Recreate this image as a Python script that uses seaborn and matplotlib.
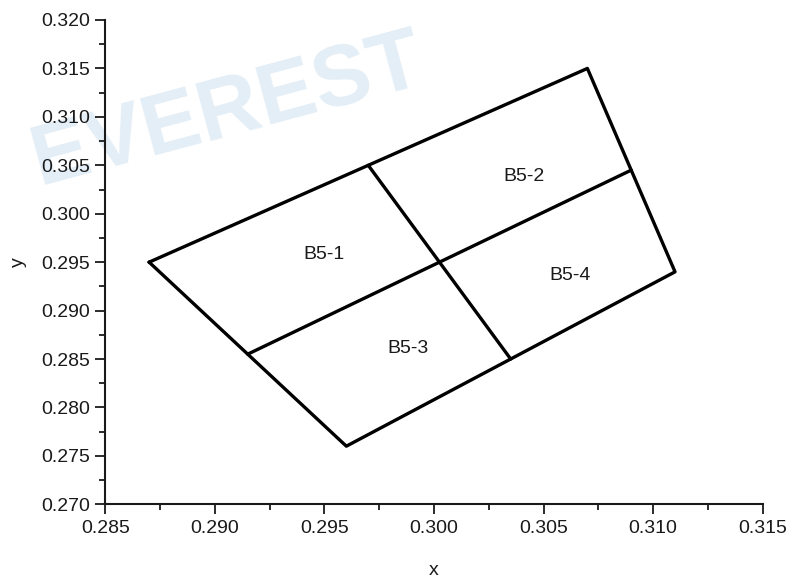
import matplotlib
matplotlib.use("Agg")
import matplotlib.pyplot as plt
from matplotlib.ticker import MultipleLocator
import seaborn as sns
import pandas as pd

# outer quadrilateral (closed)
outline_x = [0.287, 0.307, 0.311, 0.296, 0.287]
outline_y = [0.295, 0.315, 0.294, 0.276, 0.295]
# dividing lines joining edge midpoints
div1_x = [0.2915, 0.309]
div1_y = [0.2855, 0.3045]
div2_x = [0.297, 0.3035]
div2_y = [0.305, 0.285]

zone_names = ["B5-1", "B5-2", "B5-3", "B5-4"]
zone_x = [0.2950, 0.3041, 0.2988, 0.3062]
zone_y = [0.2958, 0.3038, 0.2861, 0.2936]

sns.set_style("ticks")
plt.rcParams["font.family"] = ["Liberation Sans", "DejaVu Sans"]

df = pd.concat([
    pd.DataFrame({"x": outline_x, "y": outline_y, "seg": 0, "order": range(len(outline_x))}),
    pd.DataFrame({"x": div1_x, "y": div1_y, "seg": 1, "order": range(2)}),
    pd.DataFrame({"x": div2_x, "y": div2_y, "seg": 2, "order": range(2)}),
], ignore_index=True)

fig = plt.figure(figsize=(7.87, 5.78), dpi=100)
ax = fig.add_axes([0.1338, 0.1275, 0.9691 - 0.1338, 0.9654 - 0.1275])

# faint watermark behind the axes
fig.text(0.05, 0.68, "EVEREST", fontsize=62, fontweight="bold", color="#e4eef6",
         rotation=15, rotation_mode="anchor", ha="left", va="baseline", zorder=-1)
ax.patch.set_alpha(0)

sns.lineplot(data=df, x="x", y="y", units="seg", estimator=None, sort=False,
             color="black", linewidth=2.4, ax=ax)

for name, tx, ty in zip(zone_names, zone_x, zone_y):
    ax.text(tx, ty, name, fontsize=14, ha="center", va="center", color="#1a1a1a")

ax.set_xlim(0.285, 0.315)
ax.set_ylim(0.270, 0.320)
ax.xaxis.set_major_locator(MultipleLocator(0.005))
ax.xaxis.set_minor_locator(MultipleLocator(0.0025))
ax.yaxis.set_major_locator(MultipleLocator(0.005))
ax.yaxis.set_minor_locator(MultipleLocator(0.0025))
ax.xaxis.set_major_formatter(lambda v, p: f"{v:.3f}")
ax.yaxis.set_major_formatter(lambda v, p: f"{v:.3f}")

ax.tick_params(which="major", direction="out", length=7, width=1.3, labelsize=14,
               colors="#1a1a1a", pad=4)
ax.tick_params(which="minor", direction="out", length=4.5, width=1.3, colors="#1a1a1a")
for s in ["left", "bottom"]:
    ax.spines[s].set_linewidth(1.5)
    ax.spines[s].set_color("#1a1a1a")
sns.despine(ax=ax)

ax.set_xlabel("x", fontsize=14, labelpad=18, color="#1a1a1a")
ax.set_ylabel("y", fontsize=14, labelpad=10, color="#1a1a1a")

fig.savefig("out.png", dpi=100)
